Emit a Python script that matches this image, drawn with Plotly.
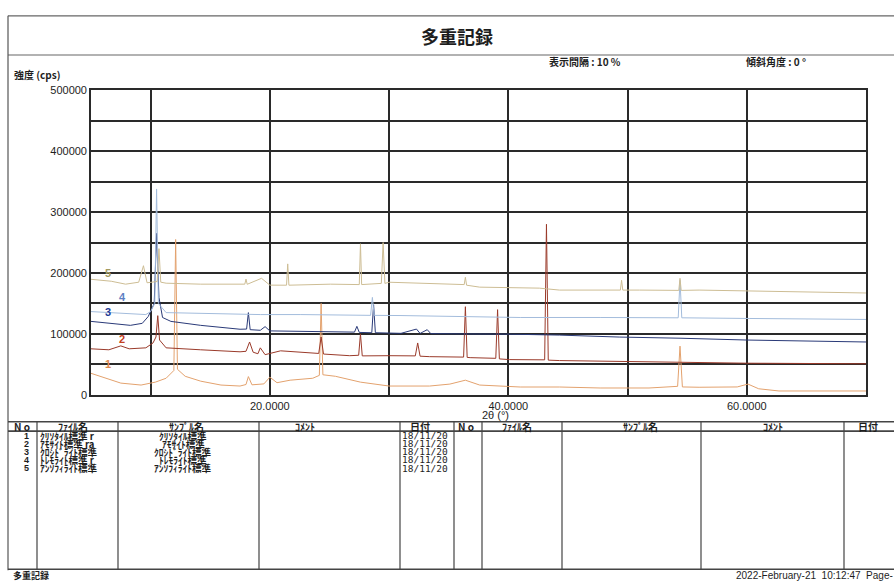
import plotly.graph_objects as go

# ---- diffraction traces (2θ in degrees, intensity in cps) ----
c1_tt = [5.0, 6.2, 7.5, 9.2, 10.4, 11.3, 11.95, 12.1, 12.25, 12.9, 14.2, 15.9, 17.5, 18.0, 18.2, 18.5,
         19.5, 20.0, 20.6, 21.7, 23.6, 24.15, 24.3, 24.45, 25.5, 27.6, 30.0, 33.4, 35.1, 36.4, 37.6,
         41.0, 44.3, 47.7, 51.8, 54.2, 54.4, 54.6, 56.0, 59.2, 60.1, 61.0, 62.7, 70.0]
c1_cps = [35400, 27300, 19300, 16100, 20900, 27300, 40000, 255000, 42000, 30500, 22500, 16100, 14500,
          17000, 30000, 16500, 18000, 29000, 20000, 24100, 27300, 32000, 150000, 33000, 30500, 20900,
          14500, 14500, 17700, 24100, 16100, 12900, 12900, 11300, 11300, 14000, 80000, 13000, 12500,
          13000, 17700, 10000, 6400, 6400]

c2_tt = [5.0, 6.5, 7.5, 8.2, 9.6, 10.2, 10.45, 10.6, 10.75, 11.3, 14.2, 17.5, 18.0, 18.3, 18.6, 19.0,
         19.2, 19.6, 20.9, 24.1, 24.3, 24.5, 26.7, 27.45, 27.6, 27.75, 30.0, 32.2, 32.4, 32.6, 33.4,
         36.25, 36.4, 36.55, 36.8, 38.95, 39.1, 39.25, 40.1, 43.05, 43.2, 43.35, 44.3, 49.3, 54.4,
         60.0, 70.0]
c2_cps = [75600, 74000, 80400, 75600, 77200, 85200, 95000, 130000, 90000, 77200, 74000, 70700, 71500,
          86800, 70000, 67500, 77200, 66000, 72300, 68000, 95000, 67000, 64300, 65000, 100000, 64000,
          64300, 64000, 85200, 63500, 62700, 62000, 144700, 61500, 61100, 60000, 139900, 59000, 57900,
          57500, 280000, 57000, 56300, 54700, 53100, 52000, 51000]

c3_tt = [5.0, 6.7, 8.3, 9.3, 9.8, 10.3, 10.5, 10.7, 11.0, 11.7, 14.2, 17.5, 18.05, 18.2, 18.35, 19.2,
         19.6, 20.0, 22.6, 25.9, 27.1, 27.3, 27.5, 28.55, 28.7, 28.85, 30.0, 31.0, 32.3, 32.6, 33.2,
         33.5, 36.4, 40.0, 44.3, 49.3, 54.4, 60.0, 70.0]
c3_cps = [120600, 117400, 114100, 117400, 128600, 150000, 265000, 160000, 127000, 120600, 114100,
          107700, 108000, 135000, 107000, 106000, 112000, 105000, 104500, 102900, 103000, 112500,
          102500, 102000, 148000, 102000, 101300, 101000, 108000, 100800, 107000, 100500, 100000,
          99700, 98100, 94900, 93000, 90000, 86800]

c4_tt = [5.0, 7.5, 9.6, 10.0, 10.35, 10.5, 10.65, 11.3, 14.2, 19.2, 22.6, 28.45, 28.6, 28.75, 31.0,
         35.1, 41.0, 47.7, 54.25, 54.4, 54.55, 60.2, 70.0]
c4_cps = [136700, 133400, 131800, 136700, 150000, 338000, 150000, 135000, 133400, 131800, 131800,
          130500, 160000, 130500, 130200, 128600, 127000, 127000, 126500, 188000, 126500, 125400, 123800]

c5_tt = [5.0, 6.7, 7.9, 9.0, 9.4, 9.7, 10.55, 10.7, 10.85, 11.3, 14.2, 17.9, 18.0, 18.1, 19.3, 20.0,
         21.4, 21.5, 21.6, 25.1, 27.5, 27.6, 27.7, 29.35, 29.5, 29.65, 30.0, 32.6, 36.3, 36.4, 36.5,
         37.6, 42.6, 44.3, 49.4, 49.5, 49.6, 51.0, 54.3, 54.4, 54.5, 56.0, 61.0, 70.0]
c5_cps = [189700, 186500, 181700, 184900, 212000, 184000, 186000, 240000, 185000, 183300, 181700,
          181700, 190000, 181500, 191300, 180100, 180000, 215000, 180000, 181700, 181000, 248000,
          181000, 183000, 250000, 183000, 184900, 183300, 181000, 193000, 180000, 176800, 175200,
          172000, 172000, 188100, 172000, 172000, 171500, 191300, 171500, 172000, 170400, 167200]

series = [
    ("1", c1_tt, c1_cps, "#e3a26e", "#e08a50", 6.4, 51400),
    ("2", c2_tt, c2_cps, "#9a3a2a", "#c4401e", 7.6, 91600),
    ("3", c3_tt, c3_cps, "#2a3a78", "#1e3c96", 6.4, 136700),
    ("4", c4_tt, c4_cps, "#a3bcdc", "#5d80c4", 7.6, 160800),
    ("5", c5_tt, c5_cps, "#cdbd94", "#a39a62", 6.4, 199400),
]

# ---- table contents ----
row_no = ["1", "2", "3", "4", "5"]
file_names = ["ｸﾘｿﾀｲﾙ標準 r", "ｱﾓｻｲﾄ標準 ra", "ｸﾛｼﾄﾞﾗｲﾄ標準", "ﾄﾚﾓﾗｲﾄ標準 r", "ｱﾝｿﾌｨﾗｲﾄ標準"]
sample_names = ["ｸﾘｿﾀｲﾙ標準", "ｱﾓｻｲﾄ標準", "ｸﾛｼﾄﾞﾗｲﾄ標準", "ﾄﾚﾓﾗｲﾄ標準", "ｱﾝｿﾌｨﾗｲﾄ標準"]
dates = ["18/11/20"] * 5
headers = ["N o", "ﾌｧｲﾙ名", "ｻﾝﾌﾟﾙ名", "ｺﾒﾝﾄ", "日付"]

x_ticks = [20, 40, 60]
x_ticklabels = ["20.0000", "40.0000", "60.0000"]
y_ticks = [0, 100000, 200000, 300000, 400000, 500000]
y_ticklabels = ["0", "100000", "200000", "300000", "400000", "500000"]

W, H = 894, 586
JP = "Noto Sans CJK JP"
SANS = "Liberation Sans, Arial, sans-serif"
INK = "#1e1e1e"


def px(x):
    return x / W


def py(y):
    return 1 - y / H


fig = go.Figure()

for name, tt, cps, lc, tc, lx, ly in series:
    fig.add_trace(go.Scatter(x=tt, y=cps, mode="lines", name=name,
                             line=dict(color=lc, width=1), hoverinfo="skip"))
    fig.add_annotation(x=lx, y=ly, xref="x", yref="y", text="<b>" + name + "</b>", showarrow=False,
                       font=dict(family=SANS, size=11, color=tc))

shapes = []


def hline(y, x0, x1, w=1.3, c="#444"):
    shapes.append(dict(type="line", xref="paper", yref="paper", x0=px(x0), x1=px(x1),
                       y0=py(y), y1=py(y), line=dict(color=c, width=w)))


def vline(x, y0, y1, w=1.3, c="#444"):
    shapes.append(dict(type="line", xref="paper", yref="paper", x0=px(x), x1=px(x),
                       y0=py(y0), y1=py(y1), line=dict(color=c, width=w)))


# page frame
hline(10, 8, 894, 1.2, "#666")
hline(50, 8, 894, 1.2, "#666")
vline(8, 10, 576, 1.2, "#555")

# table grid
hline(424.5, 8, 894, 1.6)
hline(434, 8, 894, 1.6)
hline(575, 8, 894, 1.3)
for cx in [37, 118, 259, 400, 454, 482, 562, 701, 844]:
    vline(cx, 424.5, 575, 1.2)

fig.update_layout(shapes=shapes)


def text(t, x, y, size=10, anchor="center", family=JP, color=INK, bold=False):
    if bold:
        t = "<b>" + t + "</b>"
    fig.add_annotation(x=px(x), y=py(y), xref="paper", yref="paper", text=t, showarrow=False,
                       xanchor=anchor, yanchor="middle", borderpad=0,
                       font=dict(family=family, size=size, color=color))


text("多重記録", 457, 31, 18, bold=True)
text("表示間隔 : 10 %", 548, 57, 10, "left", bold=True)
text("傾斜角度 : 0 °", 745, 57, 10, "left", bold=True)
text("強度 (cps)", 13, 70, 10, "left", bold=True)
text("2θ (°)", 495, 418, 11, family=SANS)

# table header
hdr_left = [22, 73, 186, 305, 420]
hdr_right = [466, 517, 640, 773, 868]
for h, hx in zip(headers, hdr_left):
    text(h, hx, 429.5, 10, bold=True)
for h, hx in zip(headers, hdr_right):
    text(h, hx, 429.5, 10, bold=True)

row_y = [438.5, 446.8, 455.1, 463.4, 471.7]
for i, ry in enumerate(row_y):
    text(row_no[i], 30, ry, 9, "right", family=SANS, bold=True)
    text(file_names[i], 39, ry, 9.5, "left", bold=True)
    text(sample_names[i], 183, ry, 9.5, "center", bold=True)
    text(dates[i], 401, ry, 9.5, "left", family="DejaVu Sans Mono")

# footer
text("多重記録", 12, 581, 9, "left", bold=True)
text("2022-February-21  10:12:47  Page-", 894, 581, 10, "right", family=SANS)

fig.update_xaxes(range=[5, 70], domain=[px(91), px(866)], showline=True, mirror=True,
                 linecolor="#2a2a2a", linewidth=1.6, tickvals=x_ticks, ticktext=x_ticklabels,
                 showgrid=True, gridcolor="#2a2a2a", gridwidth=1.6, zeroline=False, ticks="",
                 tickfont=dict(family=SANS, size=11, color=INK),
                 minor=dict(tickvals=[10, 30, 50], showgrid=True, gridcolor="#2a2a2a", gridwidth=1.6))
fig.update_yaxes(range=[0, 500000], domain=[py(397), py(86)], showline=True, mirror=True,
                 linecolor="#2a2a2a", linewidth=1.6, tickvals=y_ticks, ticktext=y_ticklabels,
                 showgrid=True, gridcolor="#2a2a2a", gridwidth=1.6, zeroline=False, ticks="",
                 tickfont=dict(family=SANS, size=11, color=INK),
                 minor=dict(tickvals=[50000, 150000, 250000, 350000, 450000], showgrid=True,
                            gridcolor="#2a2a2a", gridwidth=1.6))

fig.update_layout(width=W, height=H, margin=dict(l=0, r=0, t=0, b=0), showlegend=False,
                  paper_bgcolor="white", plot_bgcolor="white")

fig.write_html("out.html")
